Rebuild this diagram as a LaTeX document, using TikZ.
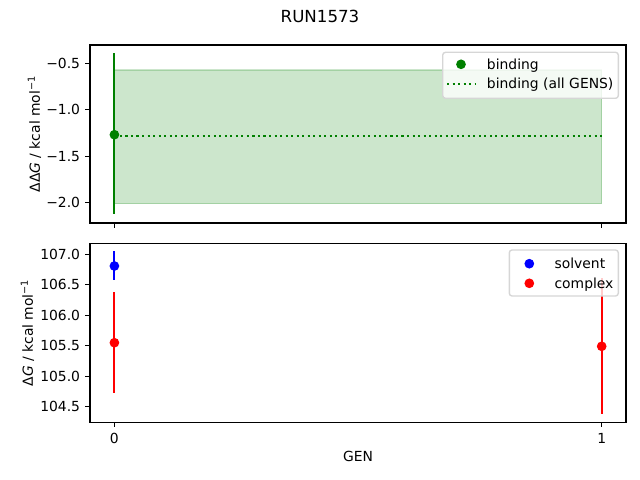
\documentclass[tikz,border=0pt]{standalone}
\usepackage{fontspec}
\setmainfont{DejaVu Sans}
\definecolor{mgreen}{RGB}{0,128,0}
\definecolor{mband}{RGB}{204,230,204}
\definecolor{mblue}{RGB}{0,0,255}
\definecolor{mred}{RGB}{255,0,0}
\definecolor{legedge}{RGB}{214,214,214}
\tikzset{
  spine/.style={draw=black, line width=0.8pt},
  tickmark/.style={draw=black, line width=0.8pt},
  ticklbl/.style={inner sep=0pt, font=\fontsize{10}{12}\selectfont},
  ebar/.style={line width=1.5pt},
  dotmark/.style={circle, inner sep=0pt, minimum size=7pt},
  legframe/.style={draw=legedge, line width=1pt, fill=white, fill opacity=0.8, rounded corners=2pt},
  legtxt/.style={inner sep=0pt, anchor=base west, font=\fontsize{10}{12}\selectfont},
  axlbl/.style={inner sep=0pt, font=\fontsize{10}{12}\selectfont},
}
\begin{document}
\begin{tikzpicture}[x=0.72pt,y=-0.72pt]
\useasboundingbox (0,0) rectangle (640,480);
% ---------- title
\node[axlbl, anchor=base, font=\fontsize{12}{14}\selectfont] (title) at (320,22.7) {RUN1573};
% ---------- top axes
\fill[mband] (114.4,70) rectangle (601.7,203.7);
\draw[mgreen, opacity=0.2, line width=1pt] (114.4,70) rectangle (601.7,203.7);
\coordinate (dl0) at (114.4,135.7);
\coordinate (dl1) at (601.7,135.7);
\draw[mgreen, line width=1.5pt, dash pattern=on 1.5pt off 2.475pt] (dl0) -- (dl1);
\coordinate (g0t) at (114.4,53.3);
\coordinate (g0b) at (114.4,214.3);
\draw[mgreen, ebar] (g0t) -- (g0b);
\node[dotmark, fill=mgreen] (g0) at (114.4,134.7) {};
\draw[spine] (90,45) rectangle (626,223);
% y ticks top
\foreach \yy/\lab in {63.3/{−0.5},109.8/{−1.0},156.2/{−1.5},202.7/{−2.0}}{
  \draw[tickmark] (90,\yy) -- (85.1,\yy);
  \node[ticklbl, anchor=base east] at (80.3,\yy+5) {\lab};
}
% x ticks top (no labels)
\foreach \xx in {114.4,601.7}{
  \draw[tickmark] (\xx,223) -- (\xx,227.9);
}
\node[axlbl, rotate=90, anchor=base] (ylab1) at (39.8,134) {ΔΔ\textit{G} / kcal mol\textsuperscript{−1}};
% legend top
\draw[legframe] (442.7,52.3) rectangle (618.3,98.3);
\node[dotmark, fill=mgreen] (lg1) at (461,64.3) {};
\coordinate (ld0) at (447,83.7);
\coordinate (ld1) at (475,83.7);
\draw[mgreen, line width=1.5pt, dash pattern=on 1.5pt off 2.475pt] (ld0) -- (ld1);
\node[legtxt] (lt1) at (486.7,69) {binding};
\node[legtxt] (lt2) at (486.7,88.4) {binding (all GENS)};
% ---------- bottom axes
\coordinate (b0t) at (114.4,251);
\coordinate (b0b) at (114.4,279.7);
\draw[mblue, ebar] (b0t) -- (b0b);
\node[dotmark, fill=mblue] (b0) at (114.4,266) {};
\coordinate (r0t) at (114.4,292);
\coordinate (r0b) at (114.4,393);
\draw[mred, ebar] (r0t) -- (r0b);
\node[dotmark, fill=mred] (r0) at (114.4,342.7) {};
\coordinate (r1t) at (601.7,278.3);
\coordinate (r1b) at (601.7,413.7);
\draw[mred, ebar] (r1t) -- (r1b);
\node[dotmark, fill=mred] (r1) at (601.7,346.3) {};
\draw[spine] (90,243.3) rectangle (626,422.3);
\foreach \yy/\lab in {254.3/{107.0},284.8/{106.5},315.3/{106.0},345.7/{105.5},376.2/{105.0},406.7/{104.5}}{
  \draw[tickmark] (90,\yy) -- (85.1,\yy);
  \node[ticklbl, anchor=base east] at (80.3,\yy+5) {\lab};
}
\foreach \xx/\lab in {114.4/0,601.7/1}{
  \draw[tickmark] (\xx,422.3) -- (\xx,427.2);
  \node[ticklbl, anchor=base] at (\xx,443) {\lab};
}
\node[axlbl, rotate=90, anchor=base] (ylab2) at (32.8,332.8) {Δ\textit{G} / kcal mol\textsuperscript{−1}};
\node[axlbl, anchor=base] (xlab) at (358,461.7) {GEN};
% legend bottom
\draw[legframe] (509.3,250) rectangle (618.3,296);
\node[dotmark, fill=mblue] (lb1) at (529.3,263.7) {};
\node[dotmark, fill=mred] (lb2) at (529.3,283.3) {};
\node[legtxt] (lbt1) at (554.3,268.4) {solvent};
\node[legtxt] (lbt2) at (554.3,288) {complex};
\end{tikzpicture}
\end{document}
